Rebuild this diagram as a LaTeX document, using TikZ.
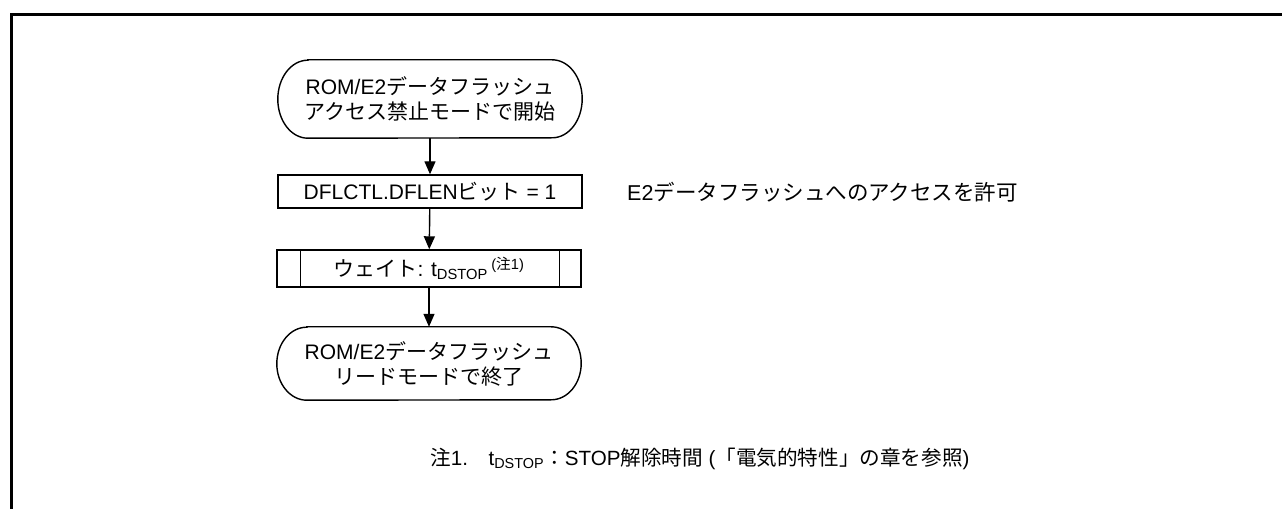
\documentclass[tikz,border=0pt]{standalone}
\usepackage{fontspec}
\setmainfont{Liberation Sans}
\newfontfamily\jpfont{Noto Sans CJK JP}
\newcommand\J[1]{{\jpfont #1}}
\usetikzlibrary{arrows.meta}
\begin{document}
\begin{tikzpicture}[x=1bp,y=-1bp,
  every node/.style={font=\fontsize{21bp}{25bp}\selectfont, inner sep=0pt, align=center},
  termbox/.style={minimum width=304bp, minimum height=78bp},
  procbox/.style={draw, line width=1.4bp, minimum width=304bp, minimum height=33bp},
  subbox/.style={draw, line width=1.4bp, minimum width=304bp, minimum height=37bp},
  arr/.style={line width=1.4bp, -{Triangle[length=13bp,width=11bp]}},
  frameline/.style={line width=3.6bp},
  outline/.style={line width=1.4bp}]
\useasboundingbox (0,0) rectangle (1282,509);
% frame
\draw[frameline] (11.3,509) -- (11.3,14.5) -- (1282,14.5);
% start terminal
\node[termbox] (start) at (430,99) {ROM/E2\J{データフラッシュ}\\\J{アクセス禁止モードで開始}};
\draw[outline] ([xshift=30bp]start.north west) -- ([xshift=-30bp]start.north east)
  arc[start angle=90, end angle=-90, x radius=30bp, y radius=39bp]
  -- ([xshift=30bp]start.south west)
  arc[start angle=270, end angle=90, x radius=30bp, y radius=39bp] -- cycle;
% process
\node[procbox] (set) at (430,191.5) {DFLCTL.DFLEN\J{ビット} = 1};
% wait subroutine
\node[subbox] (wait) at (429,268.5) {\J{ウェイト}: t\textsubscript{DSTOP}\,\textsuperscript{(\J{注}1)}};
\draw[outline] ([xshift=24bp]wait.north west) -- ([xshift=24bp]wait.south west);
\draw[outline] ([xshift=-22bp]wait.north east) -- ([xshift=-22bp]wait.south east);
% end terminal
\node[termbox, minimum height=73bp] (stop) at (429,363.5) {ROM/E2\J{データフラッシュ}\\\J{リードモードで終了}};
\draw[outline] ([xshift=30bp]stop.north west) -- ([xshift=-30bp]stop.north east)
  arc[start angle=90, end angle=-90, x radius=30bp, y radius=36.5bp]
  -- ([xshift=30bp]stop.south west)
  arc[start angle=270, end angle=90, x radius=30bp, y radius=36.5bp] -- cycle;
% connectors
\draw[arr] (start) -- (set);
\draw[arr] (set) -- (wait);
\draw[arr] (wait) -- (stop);
% side comment
\node[anchor=west, font=\fontsize{21.5bp}{25bp}\selectfont] (cmt) at (627,192) {E2\J{データフラッシュへのアクセスを許可}};
% note
\node[anchor=west, font=\fontsize{20.6bp}{24bp}\selectfont] (note) at (430,459)
  {\J{注}1.\quad t\textsubscript{DSTOP}\J{：}STOP\J{解除時間} (\J{「電気的特性」の章を参照})};
\end{tikzpicture}
\end{document}
